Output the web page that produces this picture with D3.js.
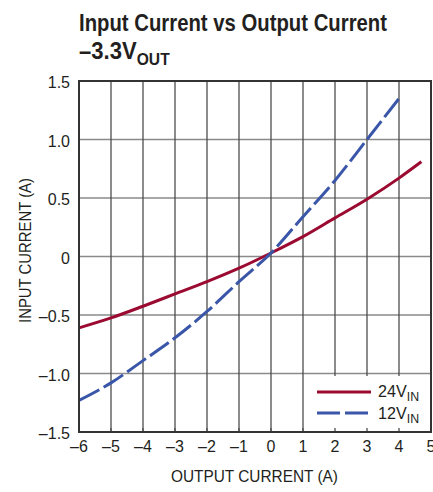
<!DOCTYPE html>
<html><head><meta charset="utf-8">
<script src="https://cdn.jsdelivr.net/npm/d3@7"></script>
<style>
body{margin:0;background:#fff;}
svg{display:block;}
text{font-family:"Liberation Sans",Arial,sans-serif;fill:#231f20;}
</style></head>
<body>
<svg id="c" width="433" height="492"></svg>
<script>
const xTicks = [-6,-5,-4,-3,-2,-1,0,1,2,3,4,5];
const yTicks = [-1.5,-1.0,-0.5,0,0.5,1.0,1.5];
const yTickLabels = ["–1.5","–1.0","–0.5","0","0.5","1.0","1.5"];
const xTickLabels = ["–6","–5","–4","–3","–2","–1","0","1","2","3","4","5"];
const out24 = [-6,-5,-4,-3,-2,-1,0,1,2,3,4,4.7];
const in24  = [-0.61,-0.525,-0.425,-0.32,-0.215,-0.10,0.03,0.17,0.33,0.49,0.67,0.81];
const out12 = [-6,-5,-4,-3,-2,-1,0,1,2,3,4];
const in12  = [-1.23,-1.08,-0.89,-0.695,-0.47,-0.215,0.03,0.34,0.65,1.0,1.35];
const seriesNames = ["24V","12V"];

const svg = d3.select("#c");
const x = d3.scaleLinear().domain([-6,5]).range([79,431]);
const y = d3.scaleLinear().domain([-1.5,1.5]).range([432,81]);

// title
svg.append("text").attr("x",79).attr("y",31).attr("font-size",24).attr("font-weight","bold")
  .attr("textLength",308).attr("lengthAdjust","spacingAndGlyphs").text("Input Current vs Output Current");
const t2 = svg.append("text").attr("transform","translate(79,59) scale(0.92,1)").attr("font-size",24).attr("font-weight","bold");
t2.append("tspan").text("–3.3V");
t2.append("tspan").attr("font-size",17).attr("dy",6).text("OUT");

// grid
svg.append("g").selectAll("line").data(yTicks).join("line")
  .attr("x1",x(-6)).attr("x2",x(5)).attr("y1",d=>y(d)).attr("y2",d=>y(d))
  .attr("stroke","#8a8a8a").attr("stroke-width",1.3);
svg.append("g").selectAll("line").data(xTicks).join("line")
  .attr("y1",y(-1.5)).attr("y2",y(1.5)).attr("x1",d=>x(d)).attr("x2",d=>x(d))
  .attr("stroke","#4d4d4d").attr("stroke-width",1.3);

// curves
const line = d3.line().curve(d3.curveMonotoneX).x(d=>x(d[0])).y(d=>y(d[1]));
svg.append("path").datum(out24.map((v,i)=>[v,in24[i]])).attr("d",line)
  .attr("fill","none").attr("stroke","#9b0a30").attr("stroke-width",3);
svg.append("path").datum(out12.map((v,i)=>[v,in12[i]])).attr("d",line)
  .attr("fill","none").attr("stroke","#3a56a8").attr("stroke-width",3).attr("stroke-dasharray","23,5");

// legend box
svg.append("rect").attr("x",310).attr("y",376).attr("width",121).attr("height",56).attr("fill","#fff");
// bottom inner ticks
svg.append("g").selectAll("line").data(xTicks).join("line")
  .attr("x1",d=>x(d)).attr("x2",d=>x(d)).attr("y1",y(-1.5)).attr("y2",y(-1.5)-4)
  .attr("stroke","#4d4d4d").attr("stroke-width",1.3);

// frame
svg.append("rect").attr("x",x(-6)).attr("y",y(1.5)).attr("width",x(5)-x(-6)).attr("height",y(-1.5)-y(1.5))
  .attr("fill","none").attr("stroke","#333").attr("stroke-width",2);

// legend
svg.append("line").attr("x1",317).attr("x2",371).attr("y1",392).attr("y2",392).attr("stroke","#9b0a30").attr("stroke-width",3);
svg.append("line").attr("x1",317).attr("x2",369.5).attr("y1",413).attr("y2",413).attr("stroke","#3a56a8").attr("stroke-width",3).attr("stroke-dasharray","23,5");
[[seriesNames[0],397],[seriesNames[1],419]].forEach(([n,yy])=>{
  const t = svg.append("text").attr("transform",`translate(378,${yy}) scale(0.95,1)`).attr("font-size",17);
  t.append("tspan").text(n);
  t.append("tspan").attr("font-size",13).attr("dy",4).text("IN");
});

// tick labels
svg.append("g").selectAll("text").data(yTicks).join("text")
  .attr("x",70).attr("y",d=>y(d)+7).attr("text-anchor","end").attr("font-size",16)
  .text((d,i)=>yTickLabels[i]);
svg.append("g").selectAll("text").data(xTicks).join("text")
  .attr("x",d=>x(d)).attr("y",452).attr("text-anchor","middle").attr("font-size",16)
  .text((d,i)=>xTickLabels[i]);

// axis titles
svg.append("text").attr("x",171).attr("y",482).attr("font-size",16)
  .attr("textLength",167).attr("lengthAdjust","spacingAndGlyphs").text("OUTPUT CURRENT (A)");
svg.append("text").attr("transform","translate(31,323) rotate(-90)").attr("font-size",16)
  .attr("textLength",145).attr("lengthAdjust","spacingAndGlyphs").text("INPUT CURRENT (A)");
</script>
</body></html>
